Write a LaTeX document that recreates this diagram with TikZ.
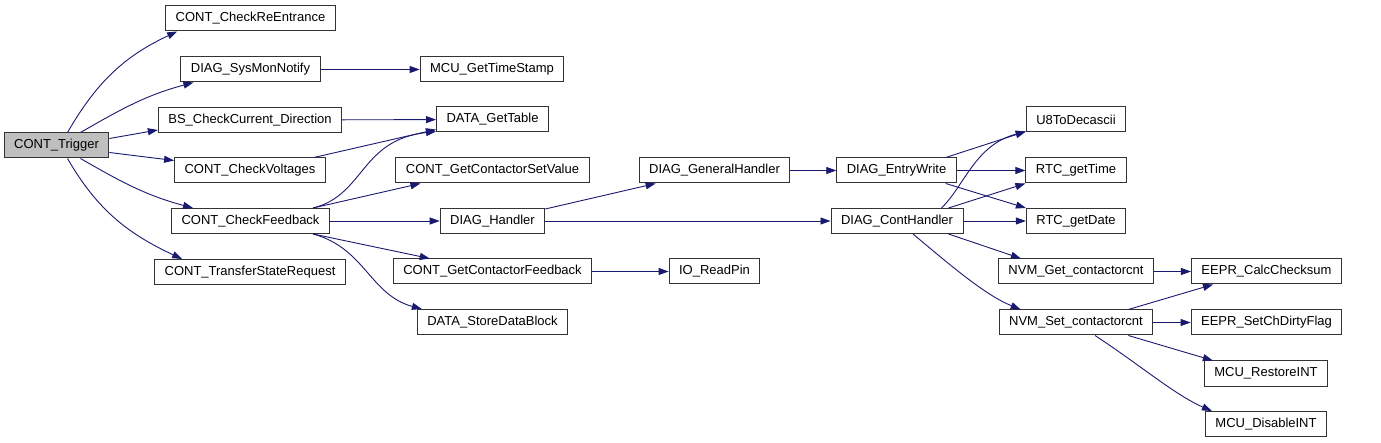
\documentclass[tikz,border=0pt]{standalone}
\usepackage{fontspec}
\setmainfont{Liberation Sans}
\usetikzlibrary{positioning, arrows.meta}
\definecolor{edgeblue}{RGB}{25,25,112}
\definecolor{rootgray}{RGB}{191,191,191}

\begin{document}
\begin{tikzpicture}[x=1pt, y=-1pt,
  every node/.style={font=\fontsize{13}{15}\selectfont},
  fn/.style={draw=black!80, line width=1pt, fill=white, inner xsep=10pt, inner ysep=0pt, minimum height=25pt},
  callarrow/.style={draw=edgeblue, line width=0.9pt, -{Triangle[length=10pt, width=7pt]}}]
 \useasboundingbox (0,0) rectangle (1381,443);
 % functions
 \node[fn, fill=rootgray] (trig)  at (56.5,145.5) {CONT\_Trigger};
 \node[fn] (reent)   at (250.5,18.5)  {CONT\_CheckReEntrance};
 \node[fn] (sysmon)  at (250.5,69.5)  {DIAG\_SysMonNotify};
 \node[fn] (bscur)   at (250,120)     {BS\_CheckCurrent\_Direction};
 \node[fn] (volt)    at (250,170.5)   {CONT\_CheckVoltages};
 \node[fn] (fbk)     at (250.5,221)   {CONT\_CheckFeedback};
 \node[fn] (trans)   at (250,272)     {CONT\_TransferStateRequest};
 \node[fn] (stamp)   at (492,69.5)    {MCU\_GetTimeStamp};
 \node[fn] (table)   at (492.5,119.5) {DATA\_GetTable};
 \node[fn] (setval)  at (492.5,170.5) {CONT\_GetContactorSetValue};
 \node[fn] (dhand)   at (492.5,221)   {DIAG\_Handler};
 \node[fn] (getfb)   at (492.5,271.5) {CONT\_GetContactorFeedback};
 \node[fn] (store)   at (492.5,322)   {DATA\_StoreDataBlock};
 \node[fn] (genh)    at (714.5,170.5) {DIAG\_GeneralHandler};
 \node[fn] (pin)     at (714.5,271.5) {IO\_ReadPin};
 \node[fn] (entry)   at (896.5,170.5) {DIAG\_EntryWrite};
 \node[fn] (conth)   at (897,221)     {DIAG\_ContHandler};
 \node[fn] (u8)      at (1076,119.5)  {U8ToDecascii};
 \node[fn] (time)    at (1076,170.5)  {RTC\_getTime};
 \node[fn] (date)    at (1076,221)    {RTC\_getDate};
 \node[fn] (nvmget)  at (1076,271.5)  {NVM\_Get\_contactorcnt};
 \node[fn] (nvmset)  at (1076,322.5)  {NVM\_Set\_contactorcnt};
 \node[fn] (chk)     at (1266.5,271.5) {EEPR\_CalcChecksum};
 \node[fn] (dirty)   at (1266.5,322.5) {EEPR\_SetChDirtyFlag};
 \node[fn] (restore) at (1266,373.5)  {MCU\_RestoreINT};
 \node[fn] (disable) at (1266,424)    {MCU\_DisableINT};
 % calls from CONT_Trigger
 \draw[callarrow] ([xshift=11]trig.north) to[out=60, in=205] ([xshift=12]reent.south west);
 \draw[callarrow] ([xshift=24]trig.north) to[out=30, in=195] ([xshift=13]sysmon.south west);
 \draw[callarrow] ([yshift=7]trig.east) -- ([yshift=3]bscur.south west);
 \draw[callarrow] ([yshift=-7]trig.east) -- ([yshift=-3]volt.north west);
 \draw[callarrow] ([xshift=24]trig.south) to[out=-30, in=165] ([xshift=22]fbk.north west);
 \draw[callarrow] ([xshift=11]trig.south) to[out=-60, in=155] ([xshift=28]trans.north west);
 % second level
 \draw[callarrow] (sysmon) -- (stamp);
 \draw[callarrow] (bscur) -- (table);
 \draw[callarrow] ([xshift=-12]volt.north east) -- ([yshift=3]table.south west);
 \draw[callarrow] ([xshift=-17]fbk.north east) .. controls (365,195) and (360,140) .. ([yshift=1]table.south west);
 \draw[callarrow] ([xshift=-17]fbk.north east) -- ([xshift=25]setval.south west);
 \draw[callarrow] (fbk) -- (dhand);
 \draw[callarrow] ([xshift=-17]fbk.south east) -- ([xshift=37]getfb.north west);
 \draw[callarrow] ([xshift=-17]fbk.south east) .. controls (365,248) and (370,295) .. ([xshift=5]store.north west);
 \draw[callarrow] (getfb) -- (pin);
 \draw[callarrow] ([yshift=-1]dhand.north east) -- ([xshift=17]genh.south west);
 \draw[callarrow] (dhand) -- (conth);
 \draw[callarrow] (genh) -- (entry);
 % DIAG entries
 \draw[callarrow] ([xshift=-11]entry.north east) -- ([yshift=1]u8.south west);
 \draw[callarrow] (entry) -- (time);
 \draw[callarrow] ([xshift=-11]entry.south east) -- (date.north west);
 \draw[callarrow] ([xshift=-22]conth.north east) .. controls (965,185) and (975,145) .. ([yshift=1]u8.south west);
 \draw[callarrow] ([xshift=-15]conth.north east) -- (time.south west);
 \draw[callarrow] (conth) -- (date);
 \draw[callarrow] ([xshift=-15]conth.south east) -- ([xshift=23]nvmget.north west);
 \draw[callarrow] ([xshift=16]conth.south) .. controls (950,265) and (985,295) .. ([xshift=22]nvmset.north west);
 % NVM
 \draw[callarrow] (nvmget) -- (chk);
 \draw[callarrow] ([xshift=-25]nvmset.north east) -- ([xshift=22]chk.south west);
 \draw[callarrow] (nvmset) -- (dirty);
 \draw[callarrow] ([xshift=-25]nvmset.south east) -- ([xshift=9]restore.north west);
 \draw[callarrow] ([xshift=19]nvmset.south) .. controls (1140,365) and (1175,395) .. ([xshift=7]disable.north west);
\end{tikzpicture}
\end{document}
